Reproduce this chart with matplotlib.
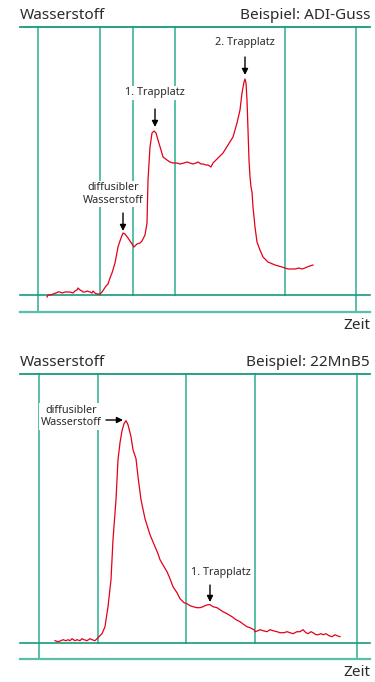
import matplotlib
matplotlib.use("Agg")
import matplotlib.pyplot as plt

plt.rcParams['font.family'] = ['Noto Sans', 'DejaVu Sans']

# --- Daten (Zeit in willkuerlichen Einheiten, Signal ueber Grundlinie) ---
adi_zeit = [47, 48, 51, 53, 56, 58, 60, 62, 65, 68, 70, 73, 75, 77, 78, 80, 82, 83,
            85, 87, 90, 92, 93, 95, 97, 100, 102, 104, 106, 108, 110, 112, 115, 118,
            121, 123, 125, 128, 132, 134, 137, 140, 142, 144, 145, 147, 148, 150, 152,
            154, 156, 158, 161, 163, 167, 170, 173, 177, 180, 184, 187, 190, 193, 196,
            198, 201, 203, 206, 208, 211, 213, 218, 223, 228, 233, 237, 240, 242, 244,
            245, 246, 247, 248, 249, 250, 251, 252, 253, 255, 257, 260, 263, 268, 275,
            282, 288, 292, 295, 299, 302, 305, 307, 310, 313]
adi_signal = [-2, 0, 0, 1, 2, 3, 3, 2, 3, 3, 3, 2, 4, 5, 7, 5, 4, 3,
              3, 4, 3, 2, 4, 2, 1, 1, 3, 6, 9, 11, 17, 22, 32, 48,
              57, 62, 61, 57, 51, 48, 51, 52, 54, 58, 60, 72, 115, 148, 162,
              164, 162, 155, 145, 138, 135, 133, 132, 132, 131, 132, 133, 132, 131, 132,
              133, 131, 131, 130, 130, 128, 132, 137, 142, 150, 158, 172, 185, 202, 213,
              216, 212, 195, 165, 135, 118, 108, 103, 88, 68, 53, 45, 38, 33, 30,
              28, 26, 26, 26, 27, 26, 27, 28, 29, 30]

mnb_zeit = [55, 58, 61, 63, 66, 68, 70, 72, 75, 77, 80, 82, 84, 87, 90, 92, 95, 97,
            98, 100, 102, 105, 108, 111, 113, 116, 118, 120, 122, 124, 126, 128, 131,
            133, 136, 138, 141, 145, 150, 155, 158, 160, 164, 167, 170, 173, 177, 180,
            184, 187, 190, 193, 197, 200, 203, 205, 208, 210, 213, 217, 220, 223, 227,
            232, 236, 240, 244, 247, 250, 252, 254, 255, 258, 260, 263, 267, 270, 273,
            277, 280, 284, 287, 290, 293, 297, 300, 303, 306, 308, 311, 313, 316, 318,
            321, 323, 326, 329, 332, 335, 337, 340]
mnb_signal = [2, 1, 2, 3, 2, 3, 2, 4, 2, 3, 2, 4, 3, 2, 4, 3, 2, 4,
              5, 7, 9, 16, 36, 63, 103, 143, 183, 200, 212, 219, 222, 218, 206,
              193, 184, 166, 143, 124, 108, 96, 89, 83, 76, 71, 64, 56, 50, 44,
              40, 39, 37, 36, 35, 35, 36, 37, 38, 38, 36, 35, 33, 31, 29,
              26, 23, 21, 18, 16, 15, 14, 13, 11, 12, 13, 12, 11, 13, 12,
              11, 10, 10, 11, 10, 9, 11, 11, 13, 10, 9, 11, 10, 8, 8,
              9, 8, 9, 7, 6, 8, 7, 6]

adi_gitter = [38, 100, 133, 175, 285, 356]
mnb_gitter = [39, 98, 186, 255, 357]

rot = '#e2001a'
gruen_dunkel = '#17997d'
gruen_hell = '#58bfa8'
text_farbe = '#2a2a2a'

W, H = 375, 682
fig = plt.figure(figsize=(W / 100, H / 100), dpi=100)


def panel(top_px, base_px, bottom_px, zeit, signal, gitter, rechts_titel):
    ax = fig.add_axes([20 / W, 1 - bottom_px / H, 350 / W, (bottom_px - top_px) / H])
    ax.set_xlim(20, 370)
    oben = base_px - top_px
    unten = base_px - bottom_px
    ax.set_ylim(unten, oben)
    ax.axis('off')

    # Gitterlinien: aeussere bis zur unteren Linie, innere bis zur Grundlinie
    for i, gx in enumerate(gitter):
        y0 = unten if i in (0, len(gitter) - 1) else 0
        ax.plot([gx, gx], [y0, oben], color=gruen_hell, lw=1.4, zorder=1, clip_on=False)
    ax.plot([20, 370], [oben, oben], color=gruen_dunkel, lw=1.3, zorder=2, clip_on=False)
    ax.plot([20, 370], [0, 0], color=gruen_dunkel, lw=1.2, zorder=2, clip_on=False)
    ax.plot([20, 370], [unten, unten], color=gruen_hell, lw=1.6, zorder=2, clip_on=False)

    ax.plot(zeit, signal, color=rot, lw=0.9, zorder=3)

    ax.annotate('Wasserstoff', xy=(0, 1), xycoords='axes fraction', xytext=(0, 3),
                textcoords='offset points', ha='left', va='bottom', fontsize=11,
                color=text_farbe)
    ax.annotate(rechts_titel, xy=(1, 1), xycoords='axes fraction', xytext=(0, 3),
                textcoords='offset points', ha='right', va='bottom', fontsize=11,
                color=text_farbe)
    ax.annotate('Zeit', xy=(1, 0), xycoords='axes fraction', xytext=(0, -4),
                textcoords='offset points', ha='right', va='top', fontsize=11,
                color=text_farbe)
    return ax


def label(ax, x, y, s):
    ax.text(x, y, s, ha='center', va='center', fontsize=7.8, color=text_farbe,
            linespacing=1.15, zorder=4,
            bbox=dict(boxstyle='square,pad=0.15', fc='white', ec='none'))


def pfeil(ax, von, nach):
    ax.annotate('', xy=nach, xytext=von,
                arrowprops=dict(arrowstyle='-|>', color='black', lw=1.0,
                                mutation_scale=9, shrinkA=0, shrinkB=0), zorder=5)


ax1 = panel(27, 295, 312, adi_zeit, adi_signal, adi_gitter, 'Beispiel: ADI-Guss')
label(ax1, 245, 252, '2. Trapplatz')
pfeil(ax1, (245, 238), (245, 220))
label(ax1, 155, 202, '1. Trapplatz')
pfeil(ax1, (155, 186), (155, 168))
label(ax1, 113.5, 101, 'diffusibler\nWasserstoff')
pfeil(ax1, (123, 82), (123, 64))

ax2 = panel(374, 642.7, 659, mnb_zeit, mnb_signal, mnb_gitter, 'Beispiel: 22MnB5')
label(ax2, 71, 226, 'diffusibler\nWasserstoff')
pfeil(ax2, (106, 222.7), (123, 222.7))
label(ax2, 221, 70.7, '1. Trapplatz')
pfeil(ax2, (210, 57.7), (210, 40.7))

fig.savefig('out.png', dpi=100)
